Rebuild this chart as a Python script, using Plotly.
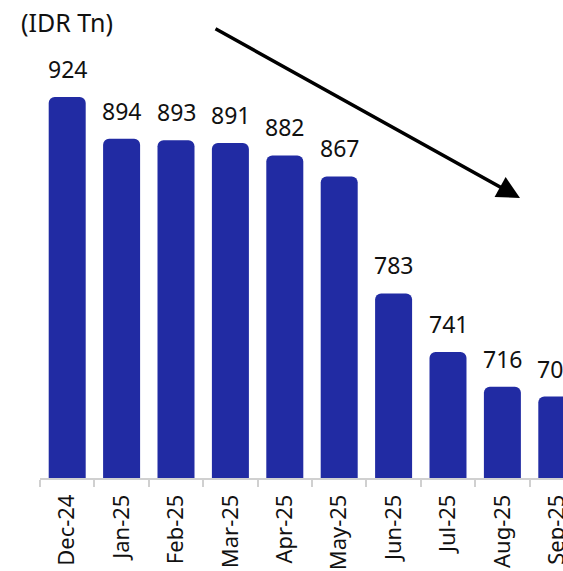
import plotly.graph_objects as go

# Monthly outstanding balance, IDR trillion
months = ["Dec-24", "Jan-25", "Feb-25", "Mar-25", "Apr-25",
          "May-25", "Jun-25", "Jul-25", "Aug-25", "Sep-25"]
values = [924, 894, 893, 891, 882, 867, 783, 741, 716, 709]
unit_label = "(IDR Tn)"

BAR_COLOR = "#212ba3"
FONT = "Noto Sans"

fig = go.Figure()
fig.add_trace(go.Bar(
    x=months,
    y=values,
    marker=dict(color=BAR_COLOR, cornerradius=6, line=dict(width=0)),
    width=0.68,
    hoverinfo="skip",
))

# value labels above each bar
for m, v in zip(months, values):
    fig.add_annotation(
        x=m, y=v, text=str(v), showarrow=False,
        yanchor="bottom", yshift=10,
        font=dict(family=FONT, size=23, color="#111111"),
    )

# unit caption
fig.add_annotation(
    xref="paper", yref="paper", x=-0.04, y=1.0,
    text=unit_label, showarrow=False, xanchor="left", yanchor="top",
    yshift=-3,
    font=dict(family=FONT, size=25, color="#111111"),
)

# downward trend arrow
fig.add_annotation(
    xref="paper", yref="paper",
    x=(520 - 40) / 523, y=(478 - 198) / 478,
    axref="pixel", ayref="pixel", ax=-306, ay=-170,
    showarrow=True, arrowhead=2, arrowsize=1.3, arrowwidth=3.5,
    arrowcolor="#000000", text="",
)

fig.update_layout(
    width=563, height=571,
    margin=dict(l=40, r=0, t=0, b=93, autoexpand=False),
    paper_bgcolor="white", plot_bgcolor="white",
    showlegend=False,
    font=dict(family=FONT, color="#111111"),
    xaxis=dict(
        type="category",
        range=[-0.5, 9.114],
        automargin=False,
        tickson="boundaries",
        ticks="outside", ticklen=7, tickwidth=1.5, tickcolor="#d0d0d0",
        showline=True, linecolor="#d0d0d0", linewidth=1.5,
        tickangle=-90,
        ticklabelstandoff=6,
        tickfont=dict(family=FONT, size=22, color="#111111"),
        showgrid=False, zeroline=False,
    ),
    yaxis=dict(
        range=[650.5, 993.6],
        visible=False, showgrid=False, zeroline=False,
        automargin=False,
    ),
    bargap=0.32,
)

fig.write_html("out.html")
